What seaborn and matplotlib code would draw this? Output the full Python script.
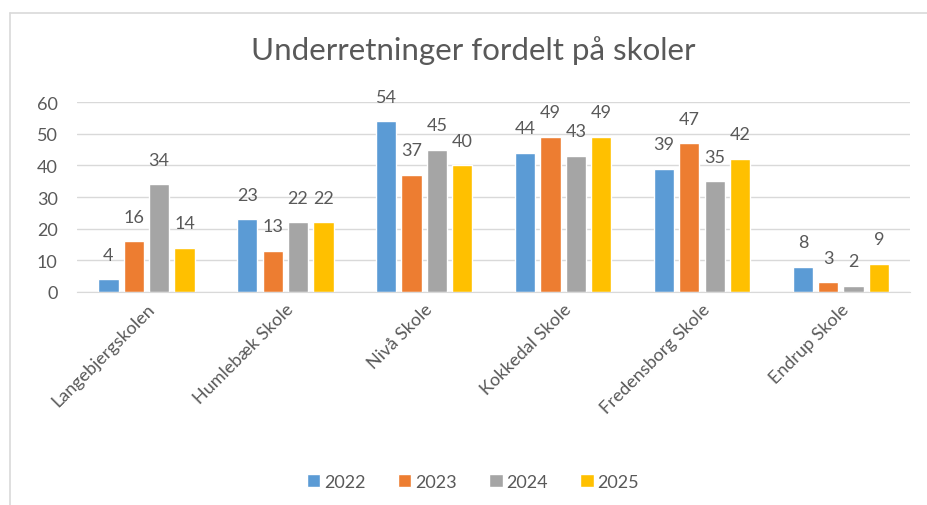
import pandas as pd
import numpy as np
import matplotlib.pyplot as plt
import seaborn as sns
from matplotlib.lines import Line2D

# data
skoler = ['Langebjergskolen', 'Humlebæk Skole', 'Nivå Skole', 'Kokkedal Skole',
          'Fredensborg Skole', 'Endrup Skole']
aar = ['2022', '2023', '2024', '2025']
v2022 = [4, 23, 54, 44, 39, 8]
v2023 = [16, 13, 37, 49, 47, 3]
v2024 = [34, 22, 45, 43, 35, 2]
v2025 = [14, 22, 40, 49, 42, 9]

farver = ['#5B9BD5', '#ED7D31', '#A5A5A5', '#FFC000']
tekst = '#595959'

df = pd.DataFrame({'Skole': skoler * 4,
                   'Aar': np.repeat(aar, len(skoler)),
                   'Antal': v2022 + v2023 + v2024 + v2025})

sns.set_style('white')
plt.rcParams['font.family'] = ['Lato', 'DejaVu Sans']

fig = plt.figure(figsize=(9.28, 5.06), dpi=100)
ax = fig.add_axes([0.083, 0.421, 0.898, 0.375])

sns.barplot(data=df, x='Skole', y='Antal', hue='Aar', palette=farver,
            saturation=1, width=0.73, gap=0.2, ax=ax, legend=True)

for c in ax.containers:
    ax.bar_label(c, padding=12, fontsize=13, color=tekst)

ax.set_ylim(0, 60)
ax.set_yticks(range(0, 61, 10))
ax.set_xlim(-0.5, 5.5)
ax.yaxis.grid(True, color='#D9D9D9', linewidth=1)
ax.set_axisbelow(True)
for s in ['top', 'right', 'left']:
    ax.spines[s].set_visible(False)
ax.spines['bottom'].set_color('#D9D9D9')
ax.set_xlabel('')
ax.set_ylabel('')
ax.tick_params(axis='both', length=0, labelsize=13, labelcolor=tekst)
ax.tick_params(axis='y', pad=14)
ax.tick_params(axis='x', pad=6)
plt.setp(ax.get_xticklabels(), rotation=45, ha='right', rotation_mode='anchor')

fig.suptitle('Underretninger fordelt på skoler', x=0.51, y=0.9, va='center',
             fontsize=22.5, color=tekst)

ax.legend(loc='center', bbox_to_anchor=(0.475, -1.0), ncol=4, frameon=False,
          fontsize=13, labelcolor=tekst, handlelength=0.75, handleheight=0.75,
          handletextpad=0.2, columnspacing=1.8)

# chart frame
fig.add_artist(Line2D([10/928, 10/928], [0, 1 - 14/506], color='#D9D9D9', lw=1.2))
fig.add_artist(Line2D([10/928, 1], [1 - 14/506, 1 - 14/506], color='#D9D9D9', lw=1.2))

fig.savefig('out.png', dpi=100)
